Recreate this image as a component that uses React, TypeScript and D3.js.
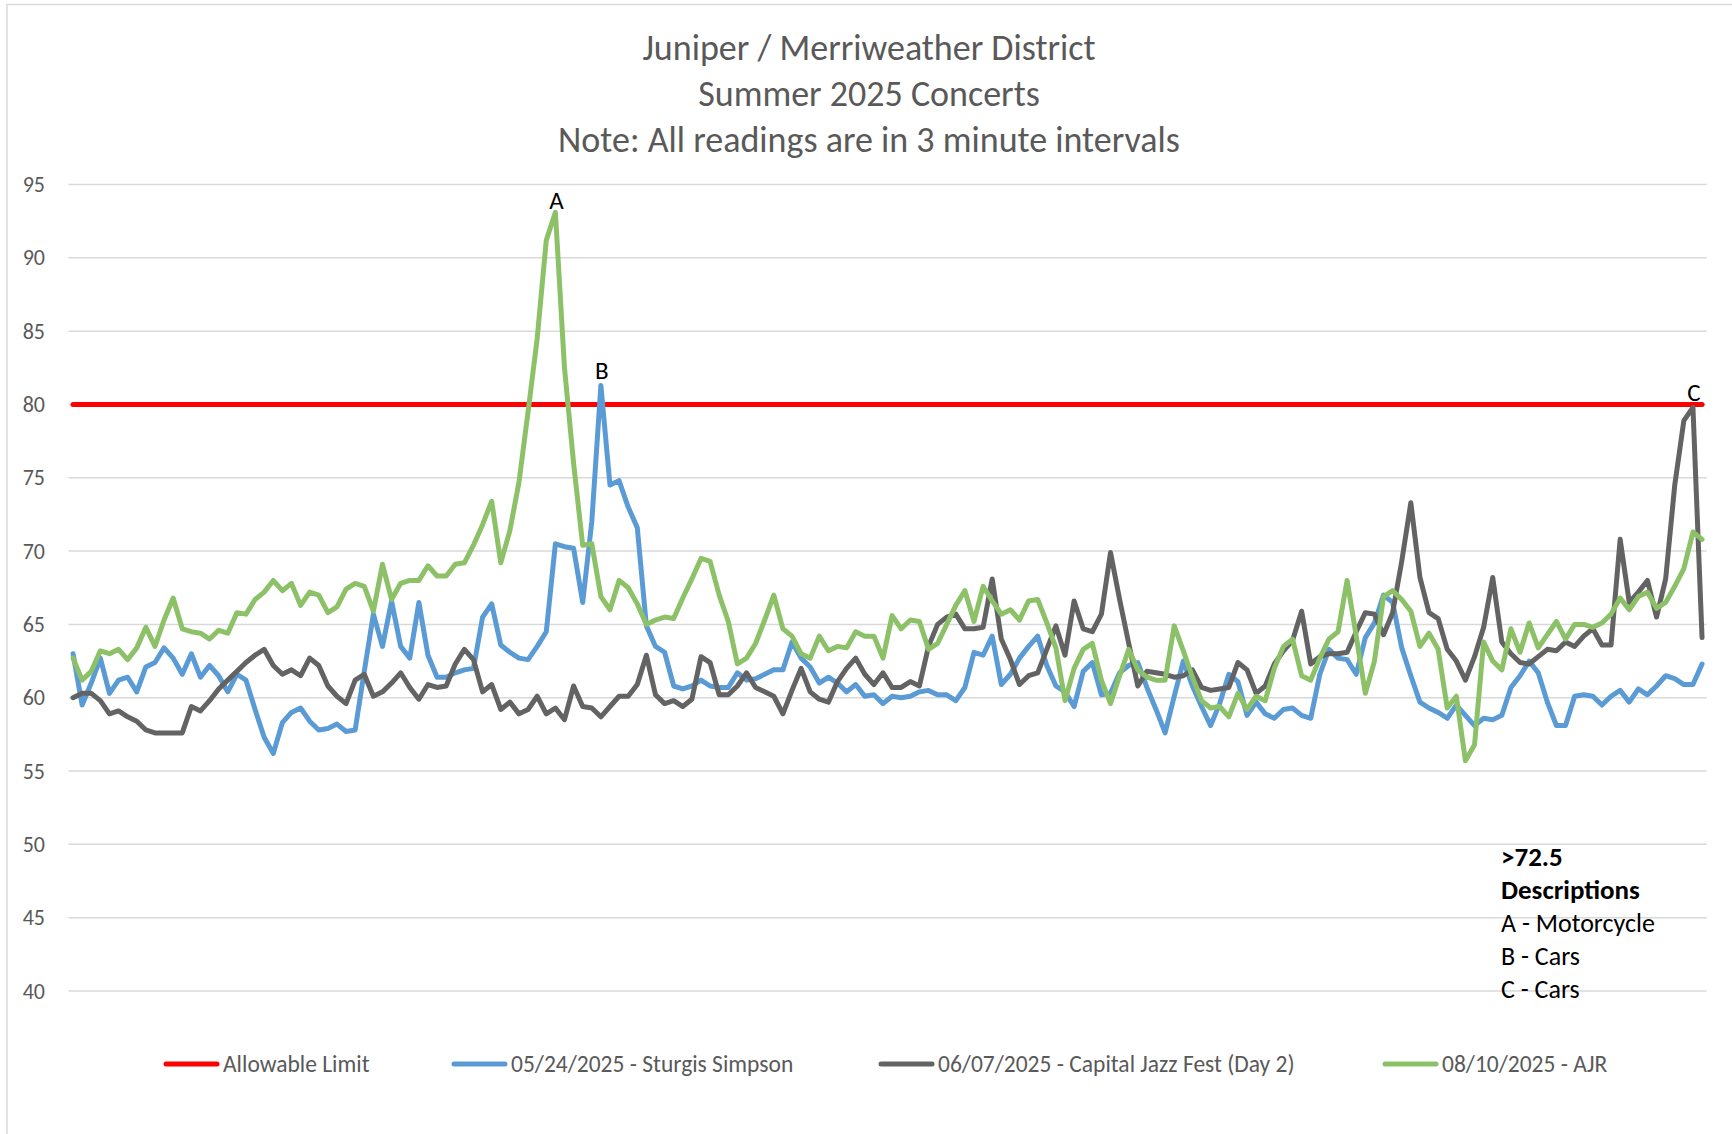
import React, { useEffect, useRef } from "react";
import * as d3 from "d3";

// readings every 3 minutes, 180 per concert
const sturgis = [
  63.0, 59.5, 61.0, 62.7, 60.3, 61.2, 61.4, 60.4, 62.1, 62.4, 63.4, 62.7, 61.6, 63.0, 61.4, 62.2, 61.5, 60.4, 61.6, 61.2,
  59.2, 57.3, 56.2, 58.3, 59.0, 59.3, 58.4, 57.8, 57.9, 58.2, 57.7, 57.8, 61.8, 65.7, 63.5, 66.6, 63.5, 62.7, 66.5, 62.9,
  61.4, 61.4, 61.7, 61.9, 62.0, 65.5, 66.4, 63.6, 63.1, 62.7, 62.6, 63.5, 64.5, 70.5, 70.3, 70.2, 66.5, 72.0, 81.3, 74.5,
  74.8, 73.0, 71.6, 64.9, 63.5, 63.1, 60.8, 60.6, 60.8, 61.2, 60.8, 60.7, 60.7, 61.7, 61.2, 61.3, 61.6, 61.9, 61.9, 63.8,
  62.7, 62.1, 61.0, 61.4, 61.0, 60.4, 60.9, 60.1, 60.2, 59.6, 60.1, 60.0, 60.1, 60.4, 60.5, 60.2, 60.2, 59.8, 60.7, 63.1,
  62.9, 64.2, 60.9, 61.6, 62.7, 63.5, 64.2, 62.2, 60.8, 60.4, 59.4, 61.8, 62.4, 60.2, 60.3, 61.7, 62.2, 62.4, 60.7, 59.2,
  57.6, 60.1, 62.5, 60.8, 59.4, 58.1, 59.6, 61.6, 61.1, 58.8, 59.7, 58.9, 58.6, 59.2, 59.3, 58.8, 58.6, 61.6, 63.3, 62.7,
  62.6, 61.6, 64.1, 65.1, 67.0, 66.5, 63.4, 61.5, 59.7, 59.3, 59.0, 58.6, 59.5, 58.8, 58.1, 58.6, 58.5, 58.8, 60.7, 61.5,
  62.5, 61.7, 59.7, 58.1, 58.1, 60.1, 60.2, 60.1, 59.5, 60.1, 60.5, 59.7, 60.6, 60.2, 60.8, 61.5, 61.3, 60.9, 60.9, 62.3,
];
const jazzFest = [
  60.0, 60.3, 60.3, 59.8, 58.9, 59.1, 58.7, 58.4, 57.8, 57.6, 57.6, 57.6, 57.6, 59.4, 59.1, 59.8, 60.6, 61.2, 61.8, 62.4,
  62.9, 63.3, 62.2, 61.6, 61.9, 61.5, 62.7, 62.2, 60.8, 60.1, 59.6, 61.2, 61.6, 60.1, 60.4, 61.0, 61.7, 60.7, 59.9, 60.9,
  60.7, 60.8, 62.3, 63.3, 62.6, 60.4, 60.9, 59.2, 59.7, 58.9, 59.2, 60.1, 58.9, 59.3, 58.5, 60.8, 59.4, 59.3, 58.7, 59.4,
  60.1, 60.1, 60.9, 62.9, 60.2, 59.6, 59.8, 59.4, 59.9, 62.8, 62.4, 60.2, 60.2, 60.8, 61.7, 60.7, 60.4, 60.1, 58.9, 60.5,
  62.0, 60.4, 59.9, 59.7, 61.1, 62.0, 62.7, 61.6, 60.9, 61.7, 60.7, 60.7, 61.1, 60.8, 63.5, 65.0, 65.5, 65.7, 64.7, 64.7,
  64.8, 68.1, 64.0, 62.6, 60.9, 61.5, 61.7, 63.3, 64.9, 62.9, 66.6, 64.7, 64.5, 65.7, 69.9, 66.7, 63.7, 60.8, 61.8, 61.7,
  61.6, 61.4, 61.5, 61.9, 60.7, 60.5, 60.6, 60.7, 62.4, 61.9, 60.3, 60.8, 62.3, 63.2, 63.9, 65.9, 62.3, 62.8, 63.0, 63.0,
  63.1, 64.5, 65.8, 65.7, 64.3, 65.8, 69.3, 73.3, 68.2, 65.8, 65.4, 63.3, 62.5, 61.2, 62.8, 64.8, 68.2, 63.8, 63.0, 62.4,
  62.3, 62.8, 63.3, 63.2, 63.8, 63.5, 64.2, 64.7, 63.6, 63.6, 70.8, 66.5, 67.2, 68.0, 65.5, 68.1, 74.5, 78.9, 79.8, 64.1,
];
const ajr = [
  62.7, 61.2, 61.8, 63.2, 63.0, 63.3, 62.6, 63.4, 64.8, 63.5, 65.3, 66.8, 64.7, 64.5, 64.4, 64.0, 64.6, 64.4, 65.8, 65.7,
  66.7, 67.2, 68.0, 67.3, 67.8, 66.3, 67.2, 67.0, 65.8, 66.2, 67.4, 67.8, 67.6, 65.9, 69.1, 66.7, 67.8, 68.0, 68.0, 69.0,
  68.3, 68.3, 69.1, 69.2, 70.4, 71.8, 73.4, 69.2, 71.4, 74.7, 79.5, 84.5, 91.2, 93.1, 82.5, 76.0, 70.4, 70.5, 66.9, 66.0,
  68.0, 67.5, 66.4, 65.0, 65.3, 65.5, 65.4, 66.8, 68.1, 69.5, 69.3, 67.0, 65.2, 62.3, 62.7, 63.7, 65.3, 67.0, 64.7, 64.2,
  63.0, 62.7, 64.2, 63.2, 63.5, 63.4, 64.5, 64.2, 64.2, 62.7, 65.6, 64.7, 65.3, 65.2, 63.3, 63.7, 65.0, 66.3, 67.3, 65.2,
  67.6, 66.6, 65.7, 66.0, 65.3, 66.6, 66.7, 65.1, 63.4, 59.8, 62.0, 63.3, 63.7, 61.2, 59.6, 61.5, 63.3, 61.9, 61.4, 61.2,
  61.2, 64.9, 63.2, 61.4, 59.8, 59.3, 59.4, 58.7, 60.3, 59.2, 60.1, 59.8, 62.0, 63.5, 64.0, 61.5, 61.2, 62.7, 64.0, 64.5,
  68.0, 64.2, 60.3, 62.5, 66.9, 67.3, 66.7, 65.9, 63.5, 64.4, 63.3, 59.3, 60.1, 55.7, 56.8, 63.8, 62.5, 61.9, 64.7, 63.1,
  65.1, 63.4, 64.3, 65.2, 64.0, 65.0, 65.0, 64.8, 65.1, 65.7, 66.8, 66.0, 66.9, 67.2, 66.1, 66.5, 67.6, 68.8, 71.3, 70.8,
];
const limitValue = 80;

const titleLines = ["Juniper / Merriweather District", "Summer 2025 Concerts", "Note: All readings are in 3 minute intervals"];
const yTicks = [40, 45, 50, 55, 60, 65, 70, 75, 80, 85, 90, 95];
const seriesNames = ["Allowable Limit", "05/24/2025 - Sturgis Simpson", "06/07/2025 - Capital Jazz Fest (Day 2)", "08/10/2025 - AJR"];
const seriesColors = ["#ff0000", "#5b9bd5", "#636363", "#8cc168"];
const peaks = [
  { label: "A", series: 3, index: 53 },
  { label: "B", series: 1, index: 58 },
  { label: "C", series: 2, index: 178 },
];
const noteLines = [">72.5", "Descriptions", "A - Motorcycle", "B - Cars", "C - Cars"];

const FONT = "Carlito, Calibri, Lato, 'Liberation Sans', sans-serif";

export default function App() {
  const ref = useRef(null);

  useEffect(() => {
    const W = 1732, H = 1134;
    const left = 68.5, right = 1706.6, top = 184.5, bottom = 991;
    const svg = d3.select(ref.current).attr("width", W).attr("height", H);
    svg.selectAll("*").remove();

    svg.append("rect").attr("width", W).attr("height", H).attr("fill", "#fff");
    svg.append("rect")
      .attr("x", 7).attr("y", 4.5).attr("width", W + 10).attr("height", H + 10)
      .attr("fill", "none").attr("stroke", "#d9d9d9").attr("stroke-width", 1.5);

    const idx = d3.range(sturgis.length);
    const xb = d3.scaleBand().domain(idx).range([left, right]);
    const x = (i) => xb(i) + xb.bandwidth() / 2;
    const y = d3.scaleLinear().domain([40, 95]).range([bottom, top]);

    // title
    svg.append("g").selectAll("text").data(titleLines).join("text")
      .attr("x", 869).attr("y", (d, i) => 60 + i * 46)
      .attr("text-anchor", "middle").attr("font-family", FONT).attr("font-size", 36)
      .attr("fill", "#595959").text((d) => d);

    // grid + y labels
    const g = svg.append("g");
    g.selectAll("line").data(yTicks).join("line")
      .attr("x1", left).attr("x2", right)
      .attr("y1", (d) => y(d)).attr("y2", (d) => y(d))
      .attr("stroke", "#d9d9d9").attr("stroke-width", 1.5);
    g.selectAll("text").data(yTicks).join("text")
      .attr("x", 45).attr("y", (d) => y(d) + 7.5)
      .attr("text-anchor", "end").attr("font-family", FONT).attr("font-size", 22)
      .attr("fill", "#595959").text((d) => d);

    const line = d3.line().x((d, i) => x(i)).y((d) => y(d)).curve(d3.curveLinear);
    const limit = idx.map(() => limitValue);
    const all = [limit, sturgis, jazzFest, ajr];

    svg.append("g").selectAll("path").data(all).join("path")
      .attr("d", (d) => line(d))
      .attr("fill", "none")
      .attr("stroke", (d, i) => seriesColors[i])
      .attr("stroke-width", 5)
      .attr("stroke-linejoin", "round")
      .attr("stroke-linecap", "round");

    // peak labels
    svg.append("g").selectAll("text").data(peaks).join("text")
      .attr("x", (d) => x(d.index) + 1)
      .attr("y", (d, i) => y(all[d.series][d.index]) - (i === 0 ? 3 : 6))
      .attr("text-anchor", "middle").attr("font-family", FONT).attr("font-size", 25)
      .attr("fill", "#000").text((d) => d.label);

    // description box
    svg.append("g").selectAll("text").data(noteLines).join("text")
      .attr("x", 1501).attr("y", (d, i) => 866 + i * 33)
      .attr("font-family", FONT).attr("font-size", (d, i) => (i < 2 ? 27 : 26))
      .attr("font-weight", (d, i) => (i < 2 ? 700 : 400))
      .attr("fill", "#000").text((d) => d);

    // legend
    const legendX = [164, 452, 879, 1383];
    const lg = svg.append("g").selectAll("g").data(seriesNames).join("g")
      .attr("transform", (d, i) => `translate(${legendX[i]},1064)`);
    lg.append("line").attr("x1", 2).attr("x2", 53).attr("y1", 0).attr("y2", 0)
      .attr("stroke", (d, i) => seriesColors[i]).attr("stroke-width", 5).attr("stroke-linecap", "round");
    lg.append("text").attr("x", 59).attr("y", 8)
      .attr("font-family", FONT).attr("font-size", 23.5).attr("fill", "#595959").text((d) => d);
  }, []);

  return (
    <div style={{ position: "absolute", left: 0, top: 0 }}>
      <svg ref={ref}></svg>
    </div>
  );
}
